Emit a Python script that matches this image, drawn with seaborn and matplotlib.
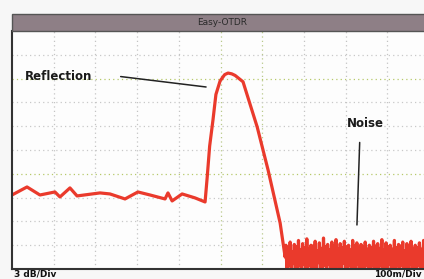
import numpy as np
import pandas as pd
import matplotlib
matplotlib.use("Agg")
import matplotlib.pyplot as plt
from matplotlib.patches import Rectangle
import seaborn as sns

# ---- data (distance in m, level in dB) ----
trace_dist = [0, 36, 67, 103, 115, 139, 156, 211, 235, 271, 302, 331, 367, 374, 384,
              408, 439, 463, 468, 474, 482, 489, 499, 510, 518, 527, 535, 554, 588,
              614, 643, 655]
trace_db = [9.33, 10.34, 9.33, 9.71, 9.08, 10.22, 9.21, 9.59, 9.46, 8.83, 9.71, 9.33,
            8.83, 9.59, 8.58, 9.46, 8.96, 8.45, 11.5, 15.5, 18.8, 22.0, 23.7, 24.5,
            24.7, 24.6, 24.4, 23.6, 17.9, 12.5, 5.8, 1.5]
noise_start = 657
noise_step = 2.5
noise_db = [3.0, -0.4, 2.6, 0.5, 3.4, -0.8, 2.2, 0.7, 3.1, -0.5, 2.8, 0.0, 3.6, 0.4,
            2.4, -0.7, 3.2, 0.6, 2.7, -0.8, 3.8, 0.2, 2.5, 0.5, 3.0, -0.9, 2.9, 0.3,
            3.5, -0.6, 2.3, 0.8, 3.3, 0.0, 2.6, -0.2, 3.9, 0.5, 2.8, -0.7, 3.1, 0.6,
            2.4, -0.8, 3.4, 0.3, 2.9, -0.6, 3.7, 0.5, 2.5, -0.9, 3.2, 0.2, 2.7, 0.7,
            3.5, -0.7, 2.8, 0.1, 3.0, 0.4, 2.4, -0.8, 3.6, 0.2, 2.9, -0.6, 3.3, 0.6,
            2.6, -0.9, 3.1, 0.3, 2.8, -0.7, 3.4, 0.5, 2.5, -0.5, 3.0, -0.8, 2.7, 0.4,
            3.5, -0.6, 2.9, 0.2, 3.2, -0.9, 2.6, 0.5, 3.7, -0.7, 2.4, 0.3, 3.3, -0.5,
            2.8, 0.6, 3.0, -0.8, 2.5, 0.1, 3.6, -0.6, 2.7, 0.4, 3.1, -0.9, 2.9, 0.5,
            3.4, -0.7, 2.3, 0.2, 3.2, -0.5, 2.8, 0.6, 3.5, -0.8, 2.6, 0.3, 3.0, -0.6,
            2.7, 0.5, 3.3, -0.9, 2.5, 0.2, 3.6, -0.7, 2.9, 0.4, 3.1, -0.5]
title_text = "Easy-OTDR"
y_label_text = "3 dB/Div"
x_label_text = "100m/Div"

noise_dist = list(noise_start + noise_step * np.arange(len(noise_db)))
df = pd.DataFrame({"dist": trace_dist + noise_dist,
                   "db": trace_db + noise_db})

sns.set_style("white")
W, H = 424, 279
fig = plt.figure(figsize=(W / 100, H / 100), dpi=100, facecolor="#f7f7f7")

# plot area: x 12..429 px, y 31..269 px
ax = fig.add_axes([12 / W, (H - 269) / H, 417 / W, 238 / H])
ax.set_facecolor("#fdfdfd")
ax.set_xlim(0, 1000)
ax.set_ylim(0, 30)

# grid
for xv in range(100, 1000, 100):
    col = "#b9c98a" if xv in (500, 600) else "#c4c4c4"
    ax.axvline(xv, color=col, lw=0.9, ls=(0, (1, 2.5)), zorder=1)
for yv in range(3, 30, 3):
    col = "#b6c96a" if yv in (24, 12) else "#c8c8c8"
    ax.axhline(yv, color=col, lw=0.9, ls=(0, (1, 2.5)), zorder=1)

sns.lineplot(data=df, x="dist", y="db", sort=False, estimator=None,
             color="#ea3a2c", lw=2.3, ax=ax, zorder=3)

ax.set_xlabel("")
ax.set_ylabel("")
ax.set_xticks([])
ax.set_yticks([])
for s in ["left", "bottom"]:
    ax.spines[s].set_color("#333333")
    ax.spines[s].set_linewidth(1.5)
    ax.spines[s].set_zorder(5)
ax.spines["top"].set_visible(False)
ax.spines["right"].set_visible(False)

# annotations
ax.text(30, 24.3, "Reflection", fontsize=8.5, fontweight="bold", color="#1a1a1a",
        ha="left", va="center", zorder=4)
ax.annotate("", xy=(472, 22.9), xytext=(254, 24.3),
            arrowprops=dict(arrowstyle="-", color="#222222", lw=1.1))
ax.text(848, 18.3, "Noise", fontsize=8.5, fontweight="bold", color="#1a1a1a",
        ha="center", va="center", zorder=4)
ax.annotate("", xy=(827, 5.2), xytext=(834, 16.3),
            arrowprops=dict(arrowstyle="-", color="#222222", lw=1.1))

# title bar
fig.patches.append(Rectangle((12 / W, (H - 31) / H), 1, 17 / H,
                             transform=fig.transFigure, facecolor="#8e7f86",
                             edgecolor="#555555", lw=1.0))
fig.text(222 / W, (H - 22.5) / H, title_text, fontsize=6.5, color="#2a2a2a",
         ha="center", va="center")

# division labels
fig.text(14 / W, 0.5 / H, y_label_text, fontsize=6.5, color="#111111",
         ha="left", va="bottom", fontweight="bold")
fig.text(422 / W, 0.5 / H, x_label_text, fontsize=6.5, color="#111111",
         ha="right", va="bottom", fontweight="bold")

fig.savefig("out.png", dpi=100, facecolor=fig.get_facecolor())
